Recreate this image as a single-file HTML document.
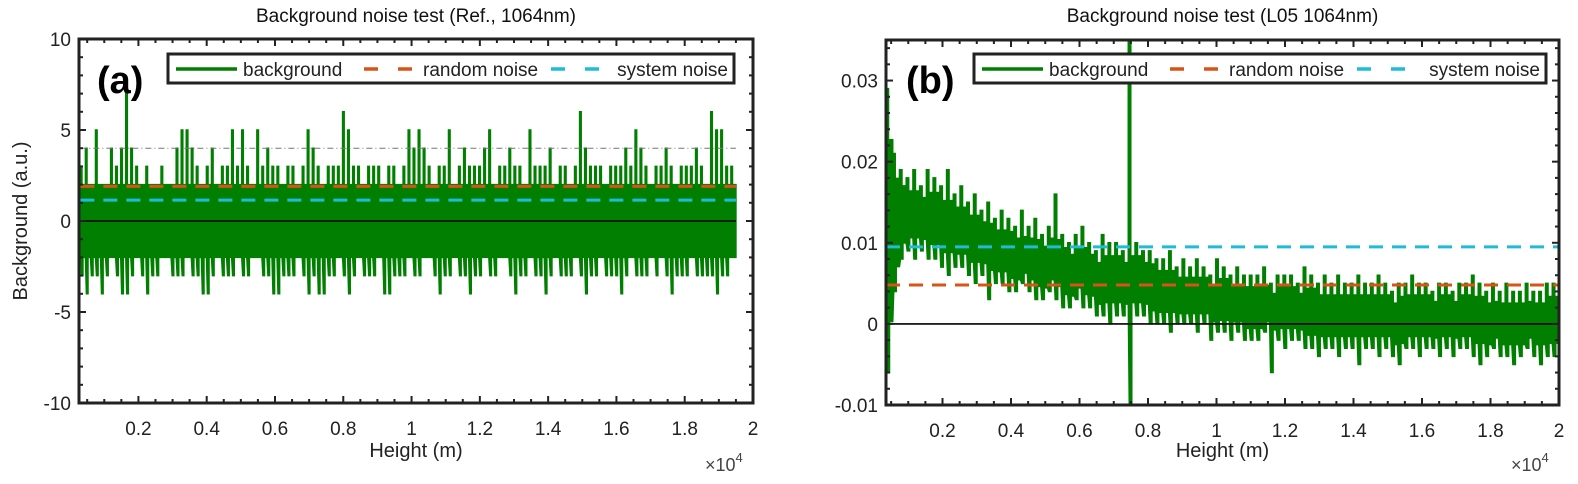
<!DOCTYPE html>
<html><head><meta charset="utf-8">
<style>
html,body{margin:0;padding:0;background:#fff;}
svg{display:block;font-family:"Liberation Sans",Arial,sans-serif;}
</style></head>
<body>
<svg id="fig" width="1578" height="484" viewBox="0 0 1578 484">
<g id="pa"></g>
<g id="pb"></g>
</svg>
<script>
// ---------- Panel (a) data ----------
const aXRange = [260, 20000];
const aYRange = [-10, 10];
const aXTicks = [2000,4000,6000,8000,10000,12000,14000,16000,18000,20000];
const aXTickLabels = ["0.2","0.4","0.6","0.8","1","1.2","1.4","1.6","1.8","2"];
const aYTicks = [-10,-5,0,5,10];
const aYTickLabels = ["-10","-5","0","5","10"];
const aDataStart = 300, aDataEnd = 19500;
const aUpper = [3,4,2,5,2,2,4,3,4,7,4,3,2,3,2,2,3,2,2,4,5,5,4,3,2,3,4,2,3,3,
5,3,5,3,2,5,3,4,3,3,2,3,3,2,3,5,4,3,2,3,3,3,6,5,3,3,2,3,3,3,
2,3,3,2,3,5,4,5,4,3,2,3,3,5,2,3,4,3,3,3,4,5,2,3,3,4,3,3,2,5,
3,3,3,4,2,3,3,2,3,6,4,3,3,3,2,3,3,3,4,3,5,4,3,2,3,3,4,3,2,3,
3,3,4,3,2,6,5,5,3,3];
const aLower = [-3,-4,-3,-3,-4,-3,-2,-3,-4,-4,-3,-2,-3,-4,-3,-3,-2,-2,-3,-3,-3,-2,-3,-3,-4,-4,-3,-2,-3,-3,
-3,-2,-3,-3,-2,-2,-3,-3,-4,-4,-3,-3,-3,-2,-3,-4,-3,-4,-4,-3,-3,-2,-3,-4,-3,-2,-3,-3,-3,-2,
-4,-4,-3,-3,-3,-2,-3,-3,-2,-2,-3,-4,-3,-3,-2,-3,-3,-4,-3,-3,-2,-3,-3,-2,-2,-3,-4,-3,-3,-2,
-3,-3,-4,-3,-2,-3,-3,-3,-2,-3,-4,-3,-3,-2,-3,-3,-3,-4,-3,-2,-3,-3,-3,-2,-3,-2,-3,-4,-3,-3,
-3,-2,-3,-3,-3,-3,-4,-3,-3,-2];
const aRandomNoise = 1.9;
const aSystemNoise = 1.15;
const aThreshold = 4;

// ---------- Panel (b) data ----------
const bXRange = [350, 20000];
const bYRange = [-0.01, 0.035];
const bXTicks = [2000,4000,6000,8000,10000,12000,14000,16000,18000,20000];
const bXTickLabels = ["0.2","0.4","0.6","0.8","1","1.2","1.4","1.6","1.8","2"];
const bYTicks = [-0.01,0,0.01,0.02,0.03];
const bYTickLabels = ["-0.01","0","0.01","0.02","0.03"];
const bDataStart = 350, bDataEnd = 20000;
const bUpper = [29,21,19,18,19,17,19,18,17,19,16,17,15,16,14,15,13,14,13,12,14,12,13,11,12,16,11,10,11,12,10,9,11,10,10,9,35,10,9,9,8,8,9,7,8,7,8,7,6,8,7,6,7,6,6,6,7,5,6,6,6,5,7,6,5,6,5,6,5,5,6,5,5,6,5,4,5,5,6,5,5,4,5,5,4,5,5,6,5,4,5,4,5,4,4,5,4,4,5,5];
const bLower = [-6,4,8,9,8,9,8,8,7,6,7,7,6,5,6,3,5,5,4,4,5,4,3,3,4,3,2,2,3,2,2,1,1,0,1,1,-10,1,1,0,0,0,-1,0,0,0,-1,0,-2,-1,-1,-2,-1,-2,-2,-2,-1,-6,-2,-3,-2,-2,-3,-3,-4,-3,-3,-4,-3,-3,-5,-3,-3,-4,-3,-4,-5,-3,-3,-4,-3,-3,-4,-3,-4,-3,-3,-4,-5,-4,-3,-4,-4,-5,-4,-3,-4,-5,-4,-4];
const bScale = 0.001;
const bRandomNoise = 0.0048;
const bSystemNoise = 0.0095;

const NS = "http://www.w3.org/2000/svg";
function mk(tag, attrs, parent, text){
  const e = document.createElementNS(NS, tag);
  for (const k in attrs) e.setAttribute(k, attrs[k]);
  if (text !== undefined) e.textContent = text;
  parent.appendChild(e);
  return e;
}
function clipUp(arr, i){
  const a = arr[Math.max(0,i-1)], b = arr[Math.min(arr.length-1,i+1)];
  return Math.min(arr[i], Math.max(a,b));
}
function clipLo(arr, i){
  const a = arr[Math.max(0,i-1)], b = arr[Math.min(arr.length-1,i+1)];
  return Math.max(arr[i], Math.min(a,b));
}

function drawPanel(g, cfg){
  const {L,R,T,B,xr,yr} = cfg;
  const sx = v => L + (v - xr[0])/(xr[1]-xr[0])*(R-L);
  const sy = v => B - (v - yr[0])/(yr[1]-yr[0])*(B-T);
  const t = mk('text',{x:(L+R)/2,y:22,'text-anchor':'middle','font-size':19,fill:'#111'},g,cfg.title);
  
  
  const cid = 'clip'+cfg.id;
  const cp = mk('clipPath',{id:cid},g);
  mk('rect',{x:L,y:T,width:R-L,height:B-T},cp);
  const plot = mk('g',{'clip-path':'url(#'+cid+')'},g);
  const n = cfg.up.length;
  const w = (cfg.dEnd - cfg.dStart)/n;
  const sw = cfg.spikeW;
  let top = [], bot = [];
  for (let i=0;i<n;i++){
    const x0 = sx(cfg.dStart + i*w), x1 = sx(cfg.dStart + (i+1)*w);
    const yu = sy(cfg.up[i]*cfg.scale), yl = sy(cfg.lo[i]*cfg.scale);
    const mu = sy(cfg.mid[0](i)), ml = sy(cfg.mid[1](i));
    top.push(x0+','+yu, (x0+sw)+','+yu, (x0+sw)+','+mu, x1+','+mu);
    bot.push((x0+1)+','+yl, (x0+1+sw)+','+yl, (x0+1+sw)+','+ml, x1+','+ml);
  }
  const poly = mk('polygon',{points: top.concat(bot.reverse()).join(' '), fill:'#007f00', stroke:'#007f00','stroke-width':1.5},plot);
  
  
  if (cfg.thr !== undefined){
    const th = mk('line',{x1:sx(cfg.dStart),x2:sx(cfg.dEnd),y1:sy(cfg.thr),y2:sy(cfg.thr),stroke:'#777','stroke-width':1,'stroke-dasharray':'6 3 1 3'},plot);
    
    
  }
  const z = mk('line',{x1:sx(cfg.dStart),x2:sx(cfg.dEnd),y1:sy(0),y2:sy(0),stroke:'#000','stroke-width':1.6},plot);
  
  
  const rn = mk('line',{x1:sx(cfg.dStart),x2:sx(cfg.dEnd),y1:sy(cfg.rn),y2:sy(cfg.rn),stroke:'#d95319','stroke-width':3,'stroke-dasharray':'14 9'},plot);
  
  
  const sn = mk('line',{x1:sx(cfg.dStart),x2:sx(cfg.dEnd),y1:sy(cfg.sn),y2:sy(cfg.sn),stroke:'#1ebcd8','stroke-width':3,'stroke-dasharray':'14 9'},plot);
  
  
  const tk = mk('g',{stroke:'#222','stroke-width':2},g);
  const xmin = cfg.xMinor;
  for (let v = Math.ceil(xr[0]/xmin)*xmin; v <= xr[1]; v += xmin){
    const major = Math.abs(v/2000 - Math.round(v/2000))<1e-6;
    const l = major?7:4;
    mk('line',{x1:sx(v),x2:sx(v),y1:B,y2:B-l},tk);
    mk('line',{x1:sx(v),x2:sx(v),y1:T,y2:T+l},tk);
  }
  const ym = cfg.yMinor;
  for (let k = Math.ceil(yr[0]/ym - 1e-6); k*ym <= yr[1]+1e-9; k++){
    const v = k*ym;
    const major = cfg.yt.some(tv=>Math.abs(tv-v)<1e-9);
    const l = major?7:4;
    mk('line',{x1:L,x2:L+l,y1:sy(v),y2:sy(v)},tk);
    mk('line',{x1:R,x2:R-l,y1:sy(v),y2:sy(v)},tk);
  }
  cfg.xt.forEach((v,i)=>{
    const e = mk('text',{x:sx(v),y:B+32,'text-anchor':'middle','font-size':19,fill:'#222'},g,cfg.xtl[i]);
    
    
  });
  cfg.yt.forEach((v,i)=>{
    const e = mk('text',{x:L-8,y:sy(v)+7,'text-anchor':'end','font-size':19,fill:'#222'},g,cfg.ytl[i]);
    
    
  });
  const fr = mk('rect',{x:L,y:T,width:R-L,height:B-T,fill:'none',stroke:'#222','stroke-width':3},g);
  
  
  const xl = mk('text',{x:(L+R)/2,y:457,'text-anchor':'middle','font-size':20,fill:'#222'},g,'Height (m)');
  
  
  const ex = mk('text',{x:R-48,y:471,'font-size':18,fill:'#444'},g);
  
  
  ex.innerHTML = '×10<tspan dy="-9" font-size="13">4</tspan>';
  const lg = mk('g',{},g);
  
  
  mk('rect',{x:cfg.lgL,y:54,width:cfg.lgR-cfg.lgL,height:29,fill:'#fff',stroke:'#222','stroke-width':3},lg);
  const ly = 69, ox = cfg.lgL;
  mk('line',{x1:ox+8,x2:ox+69,y1:ly,y2:ly,stroke:'#007f00','stroke-width':3.5},lg);
  mk('text',{x:ox+75,y:ly+7,'font-size':19,fill:'#222'},lg,'background');
  mk('line',{x1:ox+196,x2:ox+250,y1:ly,y2:ly,stroke:'#d95319','stroke-width':3.5,'stroke-dasharray':'14 20'},lg);
  mk('text',{x:ox+255,y:ly+7,'font-size':19,fill:'#222'},lg,'random noise');
  mk('line',{x1:ox+383,x2:ox+433,y1:ly,y2:ly,stroke:'#1ebcd8','stroke-width':3.5,'stroke-dasharray':'14 20'},lg);
  mk('text',{x:cfg.lgR-6,y:ly+7,'font-size':19,fill:'#222','text-anchor':'end'},lg,'system noise');
  const pl = mk('text',{x:cfg.letterX,y:93,'font-size':38,'font-weight':'bold',fill:'#000'},g,cfg.letter);
  
  
  if (cfg.ylabel){
    const yl = mk('text',{x:0,y:0,'text-anchor':'middle','font-size':20,fill:'#222',transform:'translate(27,'+((T+B)/2)+') rotate(-90)'},g,cfg.ylabel);
    
    
  }
}

drawPanel(document.getElementById('pa'),{
  id:'a', L:79, R:753, T:39, B:403, xr:aXRange, yr:aYRange,
  title:'Background noise test (Ref., 1064nm)',
  up:aUpper, lo:aLower, scale:1, dStart:aDataStart, dEnd:aDataEnd, spikeW:1.6,
  mid:[i=>Math.min(2, aUpper[i]), i=>Math.max(-2, aLower[i])],
  thr:aThreshold, rn:aRandomNoise, sn:aSystemNoise,
  xt:aXTicks, xtl:aXTickLabels, yt:aYTicks, ytl:aYTickLabels,
  xMinor:500, yMinor:1,
  lgL:168, lgR:734, letter:'(a)', letterX:97, ylabel:'Background (a.u.)'
});
drawPanel(document.getElementById('pb'),{
  id:'b', L:886, R:1559, T:40, B:405, xr:bXRange, yr:bYRange,
  title:'Background noise test (L05 1064nm)',
  up:bUpper, lo:bLower, scale:bScale, dStart:bDataStart, dEnd:bDataEnd, spikeW:2.5,
  mid:[i=>(clipUp(bUpper,i)*0.82+clipLo(bLower,i)*0.18)*bScale, i=>(clipLo(bLower,i)*0.82+clipUp(bUpper,i)*0.18)*bScale],
  rn:bRandomNoise, sn:bSystemNoise,
  xt:bXTicks, xtl:bXTickLabels, yt:bYTicks, ytl:bYTickLabels,
  xMinor:500, yMinor:0.002,
  lgL:974, lgR:1546, letter:'(b)', letterX:906
});
</script>
</body></html>
